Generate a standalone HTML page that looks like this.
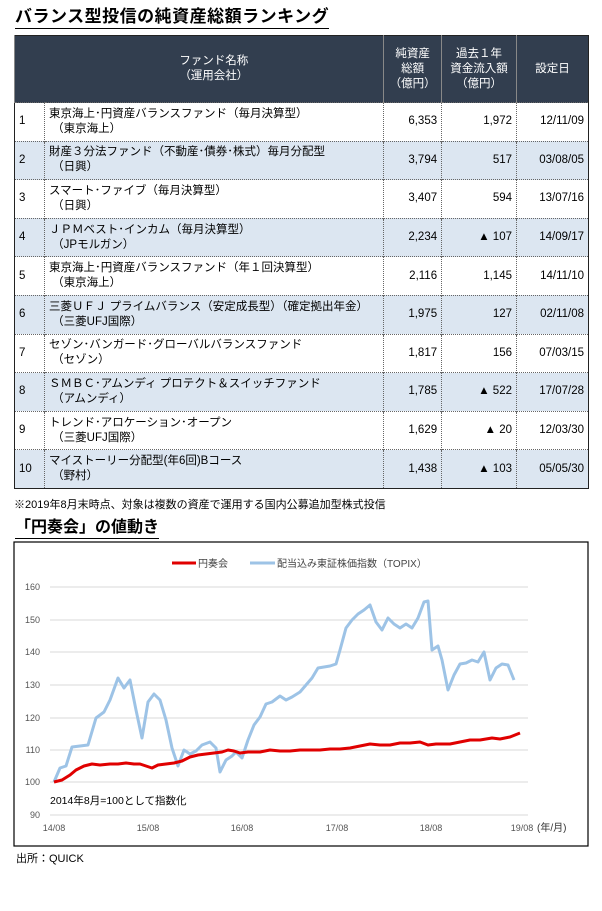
<!DOCTYPE html>
<html><head><meta charset="utf-8">
<style>
body{margin:0;width:602px;height:911px;background:#fff;font-family:"Liberation Sans","Noto Sans CJK JP",sans-serif;position:relative;overflow:hidden;color:#000}
.t{position:absolute;white-space:nowrap}
h1{position:absolute;left:15px;top:6px;margin:0;font-size:17px;font-weight:bold;border-bottom:1.5px solid #000;line-height:22px;letter-spacing:0.5px}
table{position:absolute;left:14px;top:35px;width:575px;border-collapse:collapse;font-size:11.5px;border:1.5px solid #222}
th{background:#323e4f;color:#fff;font-weight:normal;font-size:11.5px;height:64px;border-left:1px solid #888;line-height:15px}
td{height:37.6px;border-top:1px dotted #666;border-left:1px dotted #666;padding:0 4px;line-height:15px}
tr.b td{background:#dce6f1}
td.n{text-align:right}
</style></head><body>
<h1>バランス型投信の純資産総額ランキング</h1>
<table>
<colgroup><col style="width:30px"><col style="width:340px"><col style="width:58px"><col style="width:75px"><col style="width:72px"></colgroup>
<tr><th>&nbsp;</th><th style="border-left:none">ファンド名称<br>（運用会社）</th><th>純資産<br>総額<br>（億円）</th><th>過去１年<br>資金流入額<br>（億円）</th><th>設定日</th></tr>
<tr><td>1</td><td>東京海上･円資産バランスファンド（毎月決算型）<br>&nbsp;（東京海上）</td><td class="n">6,353</td><td class="n">1,972</td><td class="n">12/11/09</td></tr>
<tr class="b"><td>2</td><td>財産３分法ファンド（不動産･債券･株式）毎月分配型<br>&nbsp;（日興）</td><td class="n">3,794</td><td class="n">517</td><td class="n">03/08/05</td></tr>
<tr><td>3</td><td>スマート･ファイブ（毎月決算型）<br>&nbsp;（日興）</td><td class="n">3,407</td><td class="n">594</td><td class="n">13/07/16</td></tr>
<tr class="b"><td>4</td><td>ＪＰＭベスト･インカム（毎月決算型）<br>&nbsp;（JPモルガン）</td><td class="n">2,234</td><td class="n">▲ 107</td><td class="n">14/09/17</td></tr>
<tr><td>5</td><td>東京海上･円資産バランスファンド（年１回決算型）<br>&nbsp;（東京海上）</td><td class="n">2,116</td><td class="n">1,145</td><td class="n">14/11/10</td></tr>
<tr class="b"><td>6</td><td>三菱ＵＦＪ プライムバランス（安定成長型）（確定拠出年金）<br>&nbsp;（三菱UFJ国際）</td><td class="n">1,975</td><td class="n">127</td><td class="n">02/11/08</td></tr>
<tr><td>7</td><td>セゾン･バンガード･グローバルバランスファンド<br>&nbsp;（セゾン）</td><td class="n">1,817</td><td class="n">156</td><td class="n">07/03/15</td></tr>
<tr class="b"><td>8</td><td>ＳＭＢＣ･アムンディ プロテクト＆スイッチファンド<br>&nbsp;（アムンディ）</td><td class="n">1,785</td><td class="n">▲ 522</td><td class="n">17/07/28</td></tr>
<tr><td>9</td><td>トレンド･アロケーション･オープン<br>&nbsp;（三菱UFJ国際）</td><td class="n">1,629</td><td class="n">▲ 20</td><td class="n">12/03/30</td></tr>
<tr class="b"><td>10</td><td>マイストーリー分配型(年6回)Bコース<br>&nbsp;（野村）</td><td class="n">1,438</td><td class="n">▲ 103</td><td class="n">05/05/30</td></tr>
</table>
<div class="t" style="left:14px;top:496px;font-size:11px">※2019年8月末時点、対象は複数の資産で運用する国内公募追加型株式投信</div>
<div class="t" style="left:15px;top:518px;font-size:16px;font-weight:bold;border-bottom:1.5px solid #000;line-height:20px">「円奏会」の値動き</div>
<svg style="position:absolute;left:0;top:0" width="602" height="911">
<rect x="14" y="542" width="574" height="304" fill="none" stroke="#000" stroke-width="1.2"/>
<g stroke="#d9d9d9" stroke-width="1">
<line x1="50" x2="528" y1="587" y2="587"/><line x1="50" x2="528" y1="620" y2="620"/><line x1="50" x2="528" y1="652" y2="652"/><line x1="50" x2="528" y1="685" y2="685"/><line x1="50" x2="528" y1="718" y2="718"/><line x1="50" x2="528" y1="750" y2="750"/><line x1="50" x2="528" y1="782" y2="782"/><line x1="50" x2="528" y1="815" y2="815"/>
</g>
<g font-size="9" fill="#555" font-family="Liberation Sans,sans-serif" text-anchor="end">
<text x="40" y="590">160</text><text x="40" y="623">150</text><text x="40" y="655">140</text><text x="40" y="688">130</text><text x="40" y="721">120</text><text x="40" y="753">110</text><text x="40" y="785">100</text><text x="40" y="818">90</text>
</g>
<g font-size="9" fill="#555" font-family="Liberation Sans,sans-serif" text-anchor="middle">
<text x="54" y="831">14/08</text><text x="148" y="831">15/08</text><text x="242" y="831">16/08</text><text x="337" y="831">17/08</text><text x="431" y="831">18/08</text><text x="522" y="831">19/08</text>
</g>
<text x="537" y="831" font-size="10" fill="#333" font-family="Liberation Sans,Noto Sans CJK JP,sans-serif">(年/月)</text>
<text x="50" y="804" font-size="10.5" fill="#000" font-family="Liberation Sans,Noto Sans CJK JP,sans-serif">2014年8月=100として指数化</text>
<line x1="172" x2="196" y1="563" y2="563" stroke="#e00000" stroke-width="3"/>
<text x="198" y="567" font-size="10" fill="#444" font-family="Liberation Sans,Noto Sans CJK JP,sans-serif">円奏会</text>
<line x1="250" x2="275" y1="563" y2="563" stroke="#9dc3e6" stroke-width="3"/>
<text x="277" y="567" font-size="10" fill="#444" font-family="Liberation Sans,Noto Sans CJK JP,sans-serif">配当込み東証株価指数（TOPIX）</text>
<polyline fill="none" stroke="#9dc3e6" stroke-width="3" stroke-linejoin="round" points="54,782 60,768 66,766 72,747 80,746 88,745 96,718 104,712 110,700 118,678 124,688 130,680 136,710 142,738 148,702 154,694 160,700 166,720 172,748 178,766 184,750 190,754 196,751 202,745 210,742 216,748 220,772 226,760 232,756 236,752 242,758 248,740 254,725 260,717 266,704 272,702 280,696 286,700 292,697 300,692 306,685 312,678 318,668 324,667 330,666 336,664 340,650 346,628 352,620 358,614 364,610 370,605 376,622 382,630 388,618 394,624 400,628 406,624 412,628 418,618 424,602 428,601 432,650 438,646 442,660 448,690 454,675 460,664 466,663 472,660 478,662 484,652 490,680 496,668 502,664 508,665 514,680"/>
<polyline fill="none" stroke="#e00000" stroke-width="3" stroke-linejoin="round" points="54,782 62,780 70,775 76,770 84,766 92,764 100,765 110,764 118,764 126,763 134,764 140,764 146,766 152,768 158,765 166,764 174,763 182,761 190,757 198,755 206,754 214,753 222,752 228,750 234,751 240,753 248,752 260,752 270,750 280,751 290,751 300,750 310,750 320,750 330,749 340,749 350,748 360,746 370,744 380,745 390,745 400,743 410,743 420,742 428,745 436,744 442,744 450,744 460,742 470,740 480,740 486,739 492,738 500,739 510,737 520,733"/>
</svg>
<div class="t" style="left:16px;top:850px;font-size:11px">出所：QUICK</div>
</body></html>
